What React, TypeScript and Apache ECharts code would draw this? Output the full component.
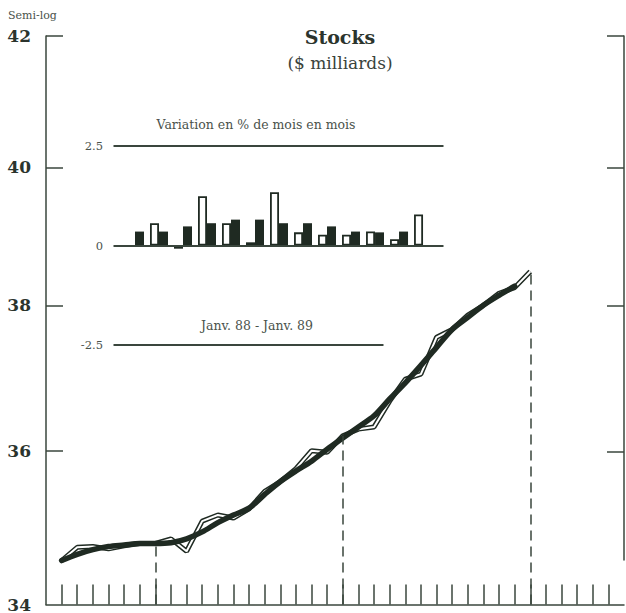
import React, { useEffect, useRef } from "react";
import * as echarts from "echarts";

// Months: index 0 = Juil. 86 ... index 30 = Janv. 89
const MONTHS = [
  "Juil. 86", "Août 86", "Sept. 86", "Oct. 86", "Nov. 86", "Déc. 86",
  "Janv. 87", "Févr. 87", "Mars 87", "Avr. 87", "Mai 87", "Juin 87",
  "Juil. 87", "Août 87", "Sept. 87", "Oct. 87", "Nov. 87", "Déc. 87",
  "Janv. 88", "Févr. 88", "Mars 88", "Avr. 88", "Mai 88", "Juin 88",
  "Juil. 88", "Août 88", "Sept. 88", "Oct. 88", "Nov. 88", "Déc. 88",
  "Janv. 89",
];
// Axis tick positions (months, including the empty months after Janv. 89)
const TICK_MONTHS = [
  0, 1, 2, 3, 4, 5, 6, 7, 8, 9, 10, 11, 12, 13, 14, 15, 16, 17, 18, 19, 20,
  21, 22, 23, 24, 25, 26, 27, 28, 29, 30, 31, 32, 33, 34, 35,
];

// Smoothed (thick) series, $ billions
const TREND = [
  34.56, 34.64, 34.70, 34.74, 34.76, 34.78, 34.78, 34.79, 34.84, 34.93,
  35.05, 35.15, 35.24, 35.42, 35.59, 35.73, 35.86, 36.02, 36.17, 36.32,
  36.47, 36.70, 36.92, 37.16, 37.41, 37.66, 37.83, 38.00, 38.14, 38.27,
];

// Monthly (thin, hollow) series, $ billions
const ACTUAL = [
  34.56, 34.73, 34.74, 34.71, 34.75, 34.78, 34.78, 34.84, 34.68, 35.07,
  35.15, 35.11, 35.23, 35.46, 35.59, 35.76, 36.00, 35.98, 36.20, 36.29,
  36.32, 36.67, 36.97, 37.04, 37.55, 37.66, 37.86, 38.00, 38.17, 38.25,
  38.48,
];

// Month indices marked with dashed verticals (Janv. 87, 88, 89)
const MARKED = [6, 18, 30];

const Y_TICKS = [34, 36, 38, 40, 42];

// Inset: month-to-month % change, Janv. 88 - Janv. 89
const INSET_MONTHS = [
  "Janv. 88", "Févr. 88", "Mars 88", "Avr. 88", "Mai 88", "Juin 88",
  "Juil. 88", "Août 88", "Sept. 88", "Oct. 88", "Nov. 88", "Déc. 88",
  "Janv. 89",
];
const HOLLOW = [null, 0.56, -0.08, 1.24, 0.56, 0.08, 1.34, 0.33, 0.27, 0.27, 0.35, 0.16, 0.78];
const SOLID = [0.35, 0.35, 0.48, 0.56, 0.65, 0.65, 0.56, 0.56, 0.48, 0.35, 0.33, 0.35, null];
const INSET_LEVELS = [2.5, 0, -2.5];

const DARK = "#1f2a22";
const AXIS = "#3a463d";
const SERIF = "'DejaVu Serif', 'Liberation Serif', serif";

export default function App() {
  const ref = useRef<HTMLDivElement>(null);

  useEffect(() => {
    if (!ref.current) return;
    const chart = echarts.init(ref.current, undefined, { renderer: "svg" });

    const insetXMin = -0.708;
    const insetXMax = 13.04;
    const insetShortEnd = 10.54;

    const pairs = (arr: (number | null)[]) =>
      arr.map((v, i) => [i, v]).filter((p) => p[1] !== null);

    const option: any = {
      animation: false,
      backgroundColor: "#ffffff",
      grid: [
        { left: 46, right: 2, top: 36, bottom: 7 },
        { left: 118, top: 146, width: 330, height: 199 },
        { left: 46, right: 2, top: 36, bottom: 53 },
      ],
      xAxis: [
        {
          type: "value",
          gridIndex: 0,
          min: -1,
          max: 36,
          axisLine: { show: true, onZero: false, lineStyle: { color: AXIS, width: 1.5 } },
          axisTick: {
            show: true,
            inside: true,
            length: 20,
            customValues: TICK_MONTHS,
            lineStyle: { color: AXIS, width: 1.5 },
          },
          axisLabel: { show: false },
          splitLine: { show: false },
        },
        {
          type: "value",
          gridIndex: 1,
          min: insetXMin,
          max: insetXMax,
          show: false,
        },
        {
          type: "value",
          gridIndex: 2,
          min: -1,
          max: 36,
          show: false,
        },
      ],
      yAxis: [
        {
          type: "log",
          gridIndex: 0,
          min: 34,
          max: 42,
          axisLine: { show: true, onZero: false, lineStyle: { color: AXIS, width: 1.5 } },
          axisTick: {
            show: true,
            inside: true,
            length: 17,
            customValues: Y_TICKS.slice(1),
            lineStyle: { color: AXIS, width: 1.5 },
          },
          axisLabel: {
            show: true,
            customValues: Y_TICKS,
            fontFamily: SERIF,
            fontWeight: "bold",
            fontSize: 17,
            color: "#2b342d",
            margin: 15,
            padding: [8, 0, 0, 0],
          },
          splitLine: { show: false },
        },
        {
          type: "value",
          gridIndex: 1,
          min: -2.5,
          max: 2.5,
          interval: 2.5,
          axisLine: { show: false, onZero: false },
          axisTick: { show: false },
          splitLine: { show: false },
          axisLabel: {
            fontFamily: SERIF,
            fontSize: 11.5,
            color: "#4a524b",
            margin: 15,
            formatter: (v: number) => (v === 0 ? "0" : v.toFixed(1)),
          },
        },
        {
          type: "log",
          gridIndex: 2,
          position: "right",
          min: 34.58,
          max: 42,
          axisLine: { show: true, onZero: false, lineStyle: { color: AXIS, width: 1.5 } },
          axisTick: {
            show: true,
            inside: true,
            length: 17,
            customValues: Y_TICKS.slice(1),
            lineStyle: { color: AXIS, width: 1.5 },
          },
          axisLabel: { show: false },
          splitLine: { show: false },
        },
      ],
      graphic: [
        {
          type: "text",
          x: 8,
          y: 15,
          style: {
            text: "Semi-log",
            font: `11px ${SERIF}`,
            fill: "#4a524b",
            align: "left",
            verticalAlign: "middle",
          },
        },
        {
          type: "text",
          x: 340,
          y: 37,
          style: {
            text: "Stocks",
            font: `bold 19px ${SERIF}`,
            fill: "#2b342d",
            align: "center",
            verticalAlign: "middle",
          },
        },
        {
          type: "text",
          x: 340,
          y: 63,
          style: {
            text: "($ milliards)",
            font: `17px ${SERIF}`,
            fill: "#3a433c",
            align: "center",
            verticalAlign: "middle",
          },
        },
        {
          type: "text",
          x: 256,
          y: 124,
          style: {
            text: "Variation en % de mois en mois",
            font: `12.5px ${SERIF}`,
            fill: "#4a524b",
            align: "center",
            verticalAlign: "middle",
          },
        },
        {
          type: "text",
          x: 257,
          y: 325,
          style: {
            text: `${INSET_MONTHS[0]} - ${INSET_MONTHS[INSET_MONTHS.length - 1]}`,
            font: `12.5px ${SERIF}`,
            fill: "#4a524b",
            align: "center",
            verticalAlign: "middle",
          },
        },
      ],
      series: [
        {
          name: "mensuel-contour",
          type: "line",
          xAxisIndex: 0,
          yAxisIndex: 0,
          data: ACTUAL.map((v, i) => [i, v]),
          symbol: "none",
          z: 2,
          lineStyle: { color: DARK, width: 5 },
          markLine: {
            silent: true,
            symbol: ["none", "none"],
            label: { show: false },
            lineStyle: { color: AXIS, width: 1.5, type: [10, 6] },
            data: MARKED.map((i) => [
              { coord: [i, Y_TICKS[0]] },
              { coord: [i, ACTUAL[i]] },
            ]),
          },
        },
        {
          name: "mensuel",
          type: "line",
          xAxisIndex: 0,
          yAxisIndex: 0,
          data: ACTUAL.map((v, i) => [i, v]),
          symbol: "none",
          z: 3,
          lineStyle: { color: "#ffffff", width: 2 },
        },
        {
          name: "tendance",
          type: "line",
          xAxisIndex: 0,
          yAxisIndex: 0,
          data: TREND.map((v, i) => [i, v]),
          symbol: "none",
          smooth: 0.3,
          z: 4,
          lineStyle: { color: DARK, width: 5.5, cap: "round" },
        },
        {
          name: "variation mensuelle",
          type: "bar",
          xAxisIndex: 1,
          yAxisIndex: 1,
          barWidth: 9,
          barGap: "0%",
          data: pairs(HOLLOW),
          z: 2,
          itemStyle: { color: "#ffffff", borderColor: DARK, borderWidth: 1.8 },
          markLine: {
            silent: true,
            symbol: ["none", "none"],
            label: { show: false },
            lineStyle: { color: AXIS, width: 1.8, type: "solid" },
            data: INSET_LEVELS.map((lv) => [
              { coord: [insetXMin, lv] },
              { coord: [lv < 0 ? insetShortEnd : insetXMax, lv] },
            ]),
          },
        },
        {
          name: "variation tendance",
          type: "bar",
          xAxisIndex: 1,
          yAxisIndex: 1,
          barWidth: 9,
          barGap: "0%",
          data: pairs(SOLID),
          z: 3,
          itemStyle: { color: DARK },
        },
      ],
    };

    chart.setOption(option);
    return () => chart.dispose();
  }, []);

  return (
    <div
      ref={ref}
      style={{
        position: "absolute",
        left: 0,
        top: 0,
        width: 626,
        height: 613,
        background: "#ffffff",
      }}
    />
  );
}
